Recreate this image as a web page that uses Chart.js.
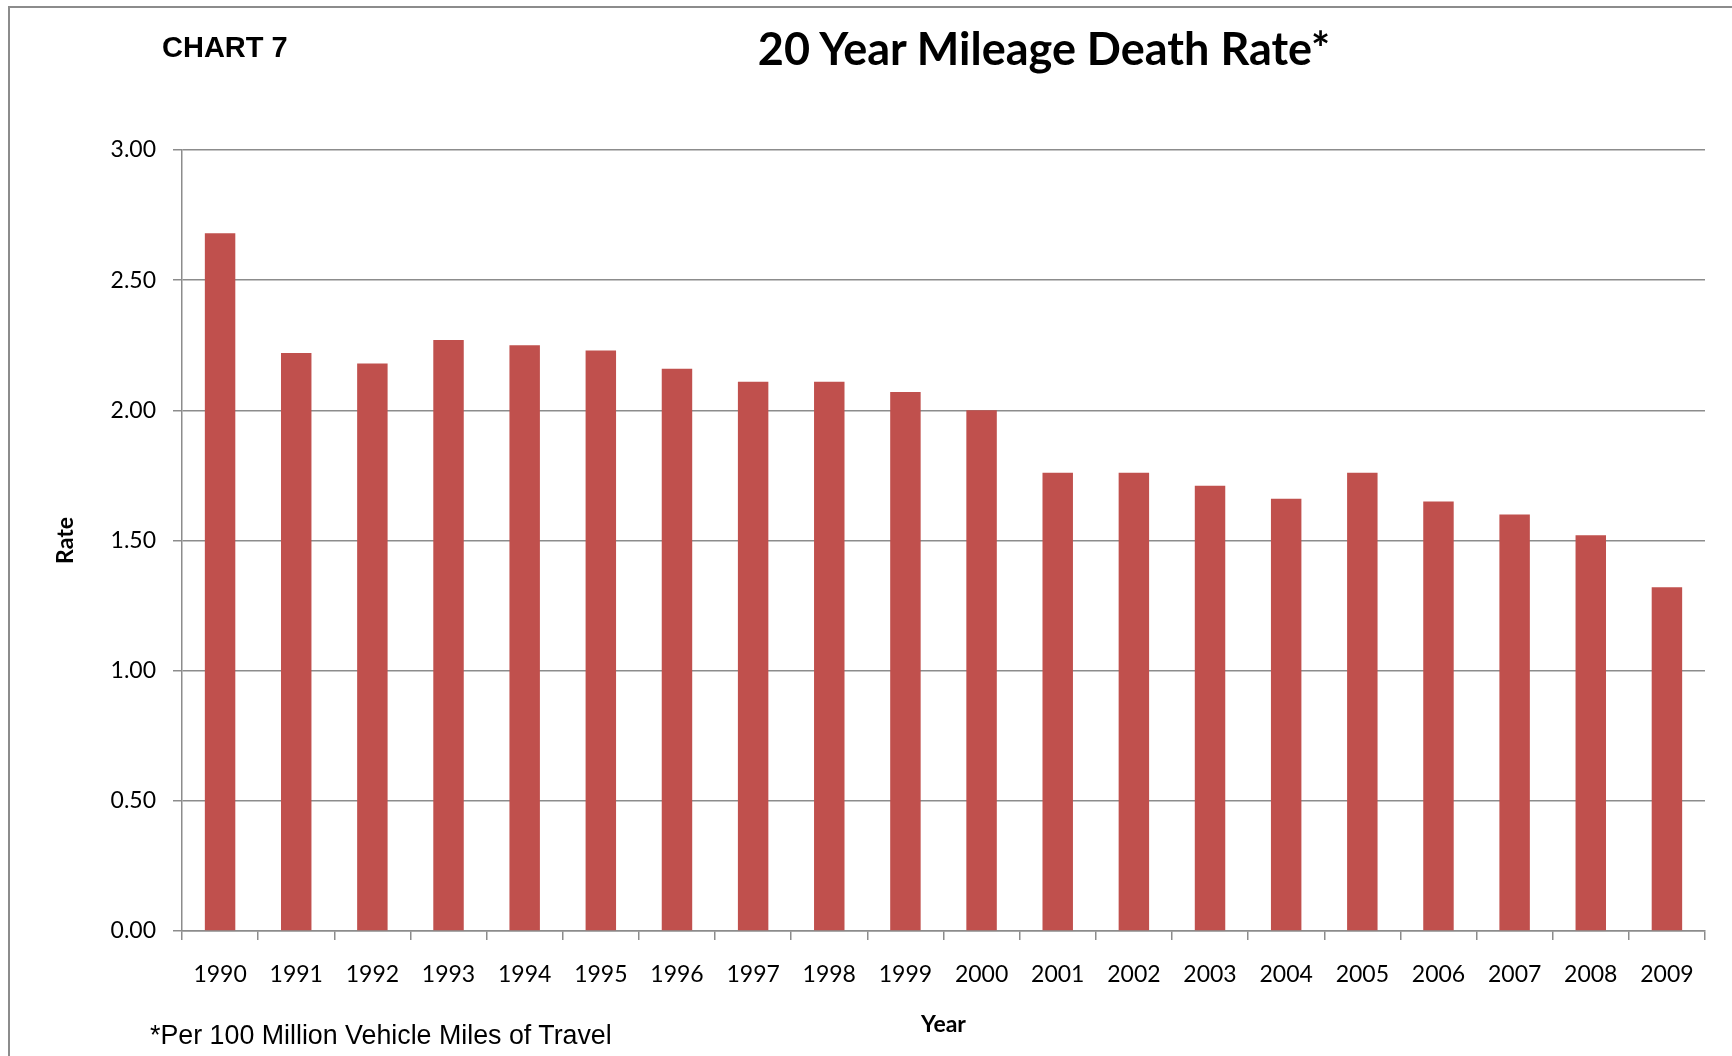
<!DOCTYPE html>
<html>
<head>
<meta charset="utf-8">
<title>20 Year Mileage Death Rate</title>
<script src="https://cdn.jsdelivr.net/npm/chart.js@4.4.1/dist/chart.umd.min.js"></script>
<style>
    body { margin: 0; background: #fff; }
    #wrap { position: relative; width: 1732px; height: 1056px; overflow: hidden; }
    #frame { position: absolute; left: 8px; top: 6px; width: 3000px; height: 3000px; border: 2px solid #8c8c8c; }
    #chartNo { position: absolute; left: 162px; top: 33px; font: bold 29px "Liberation Sans", Arial, sans-serif; line-height: 1; }
    #titulo { position: absolute; left: 1044px; top: 26px; transform: translateX(-50%); font: bold 45px Lato, sans-serif; line-height: 1; white-space: nowrap; }
    #nota { position: absolute; left: 150px; top: 1022px; font: 26.8px "Liberation Sans", Arial, sans-serif; line-height: 1; white-space: nowrap; }
    canvas { position: absolute; left: 0; top: 0; }
</style>
</head>
<body>
<div id="wrap">
    <canvas id="graficoTaxa" width="1732" height="1056"></canvas>
    <div id="frame"></div>
    <div id="chartNo">CHART 7</div>
    <div id="titulo">20 Year Mileage Death Rate*</div>
    <div id="nota">*Per 100 Million Vehicle Miles of Travel</div>
</div>
<script>
const anos = ["1990", "1991", "1992", "1993", "1994", "1995", "1996", "1997", "1998", "1999",
              "2000", "2001", "2002", "2003", "2004", "2005", "2006", "2007", "2008", "2009"];
const taxas = [2.68, 2.22, 2.18, 2.27, 2.25, 2.23, 2.16, 2.11, 2.11, 2.07,
               2.00, 1.76, 1.76, 1.71, 1.66, 1.76, 1.65, 1.60, 1.52, 1.32];
const yMin = 0;
const yMax = 3;
const yPasso = 0.5;

const corBarra = "#c0504d";
const corGrade = "#8c8c8c";
const fonteTick = { family: "Lato", size: 23 };
const fonteTitulo = { family: "Lato", size: 23, weight: "bold" };

const ctx = document.getElementById("graficoTaxa");

new Chart(ctx, {
    type: "bar",
    data: {
        labels: anos,
        datasets: [{
            label: "Rate",
            data: taxas,
            backgroundColor: corBarra,
            borderWidth: 0,
            categoryPercentage: 1,
            barPercentage: 0.4
        }]
    },
    options: {
        responsive: false,
        animation: false,
        layout: { padding: { top: 150, right: 27, left: 0, bottom: 0 } },
        plugins: {
            legend: { display: false },
            tooltip: { enabled: false }
        },
        scales: {
            x: {
                grid: { display: true, drawOnChartArea: false, drawTicks: true, tickLength: 9, color: corGrade, lineWidth: 1.5, offset: true },
                border: { color: corGrade, width: 1.5 },
                ticks: { font: fonteTick, color: "#000", padding: 21, autoSkip: false, maxRotation: 0 },
                title: { display: true, text: "Year", font: fonteTitulo, color: "#000", padding: { top: 0, bottom: 18 } },
                afterFit: s => { s.height = 125; }
            },
            y: {
                min: yMin,
                max: yMax,
                grid: { color: corGrade, lineWidth: 1.5, tickLength: 9 },
                border: { color: corGrade, width: 1.5 },
                ticks: {
                    stepSize: yPasso,
                    font: fonteTick,
                    color: "#000",
                    padding: 17,
                    callback: v => v.toFixed(2)
                },
                title: { display: true, text: "Rate", font: fonteTitulo, color: "#000", padding: { top: 52, bottom: 0 } },
                afterFit: s => { s.width = 182; }
            }
        }
    }
});
</script>
</body>
</html>
